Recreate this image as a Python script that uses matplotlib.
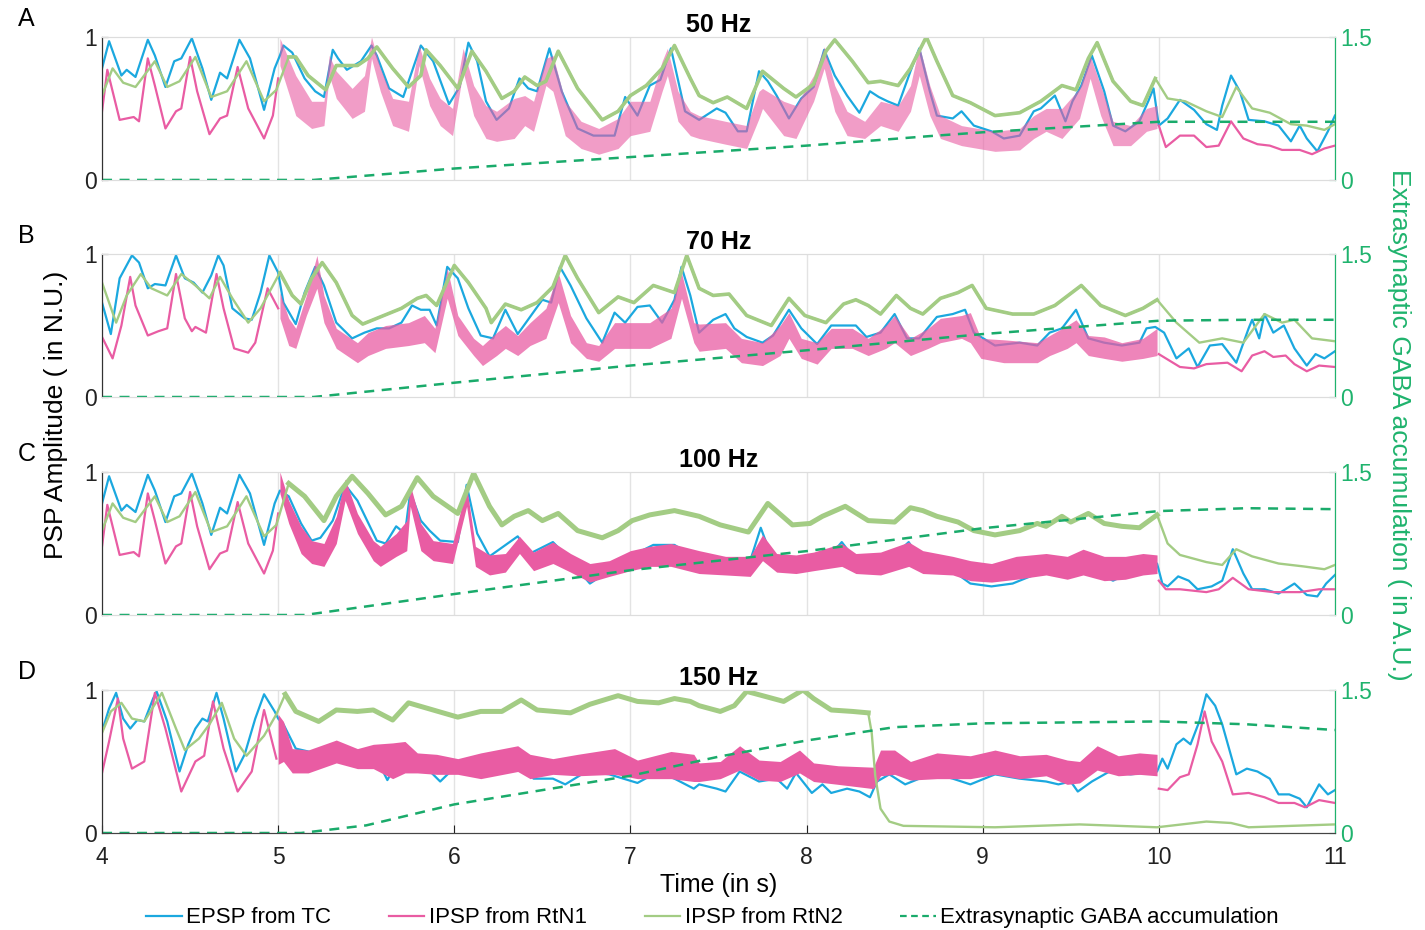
import matplotlib.pyplot as plt
from matplotlib.lines import Line2D
import numpy as np

plt.rcParams['font.family'] = ['Liberation Sans', 'DejaVu Sans']

# ---- panel A : 50 Hz -------------------------------------------------
a_blue = [(4.00,.78),(4.04,.97),(4.11,.73),(4.14,.77),(4.19,.72),(4.26,.98),(4.30,.87),(4.36,.65),(4.41,.83),(4.45,.85),
          (4.51,.99),(4.57,.78),(4.62,.56),(4.67,.75),(4.71,.71),(4.78,.98),(4.84,.85),(4.92,.49),(4.98,.78),(5.01,.87),
          (5.03,.94),(5.08,.89),(5.15,.71),(5.21,.62),(5.26,.58),(5.31,.91),(5.34,.85),(5.39,.77),(5.47,.83),(5.53,.94),
          (5.56,.87),(5.63,.64),(5.71,.58),(5.76,.76),(5.81,.94),(5.88,.83),(5.97,.53),(6.03,.65),(6.08,.96),(6.13,.83),
          (6.18,.55),(6.24,.42),(6.31,.50),(6.37,.71),(6.42,.64),(6.47,.62),(6.54,.92),(6.61,.62),(6.70,.36),(6.79,.31),
          (6.91,.31),(6.97,.58),(7.04,.45),(7.11,.66),(7.17,.70),(7.23,.92),(7.31,.48),(7.39,.42),(7.49,.50),(7.54,.47),
          (7.61,.34),(7.66,.34),(7.73,.76),(7.78,.69),(7.83,.59),(7.90,.43),(7.97,.57),(8.04,.65),(8.10,.91),(8.16,.73),
          (8.23,.59),(8.30,.47),(8.36,.62),(8.41,.58),(8.46,.55),(8.52,.52),(8.59,.76),(8.64,.92),(8.70,.62),(8.74,.45),
          (8.83,.43),(8.88,.48),(8.95,.38),(9.05,.34),(9.12,.29),(9.21,.31),(9.29,.48),(9.33,.50),(9.41,.59),(9.47,.41),
          (9.51,.55),(9.56,.66),(9.62,.87),(9.69,.62),(9.74,.38),(9.81,.34),(9.89,.41),(9.94,.55),(9.97,.64),(10.00,.38),
          (10.05,.43),(10.12,.56),(10.20,.49),(10.27,.39),(10.33,.35),(10.36,.52),(10.41,.73),(10.46,.62),(10.51,.42),
          (10.60,.41),(10.68,.38),(10.75,.27),(10.80,.38),(10.84,.29),(10.90,.20),(10.96,.34),(11.00,.45)]
a_pink_pre = [(4.00,.48),(4.03,.77),(4.06,.62),(4.10,.42),(4.14,.43),(4.18,.44),(4.21,.41),(4.26,.85),(4.30,.66),(4.36,.36),
              (4.42,.48),(4.45,.50),(4.50,.86),(4.54,.62),(4.61,.32),(4.67,.43),(4.71,.45),(4.77,.79),(4.83,.50),(4.92,.29),
              (4.97,.45),(5.00,.71)]
a_pink_band = [(5.01,.99,.80),(5.10,.73,.45),(5.19,.55,.36),(5.26,.55,.38),(5.29,.87,.73),(5.33,.76,.57),(5.42,.64,.43),
               (5.49,.73,.48),(5.53,1.0,.85),(5.58,.78,.62),(5.65,.57,.38),(5.74,.55,.34),(5.80,.94,.80),(5.86,.71,.52),
               (5.92,.57,.38),(5.99,.50,.31),(6.05,.92,.76),(6.11,.66,.45),(6.18,.52,.29),(6.24,.48,.27),(6.34,.57,.29),
               (6.40,.59,.38),(6.45,.55,.34),(6.52,.85,.66),(6.56,.87,.62),(6.63,.55,.31),(6.72,.41,.22),(6.82,.36,.18),
               (6.93,.43,.22),(7.00,.55,.31),(7.11,.55,.34),(7.18,.83,.62),(7.21,.92,.73),(7.27,.62,.41),(7.34,.48,.31),
               (7.39,.45,.29),(7.54,.41,.25),(7.66,.38,.22),(7.73,.62,.43),(7.75,.64,.50),(7.87,.55,.31),(7.94,.52,.29),
               (8.04,.73,.55),(8.10,.93,.78),(8.16,.66,.48),(8.23,.48,.31),(8.33,.41,.29),(8.42,.55,.38),(8.52,.52,.34),
               (8.59,.66,.48),(8.64,.94,.73),(8.70,.66,.45),(8.76,.45,.29),(8.88,.38,.24),(9.07,.34,.20),(9.21,.36,.21),
               (9.29,.45,.29),(9.36,.50,.34),(9.45,.50,.29),(9.55,.64,.43),(9.61,.87,.71),(9.67,.66,.45),(9.74,.41,.24),
               (9.84,.38,.24),(9.93,.50,.34),(9.99,.52,.36)]
a_pink_post = [(10.00,.38),(10.04,.23),(10.12,.31),(10.20,.31),(10.27,.23),(10.34,.24),(10.41,.41),(10.48,.29),(10.56,.25),
               (10.63,.24),(10.70,.21),(10.80,.21),(10.87,.18),(10.94,.22),(11.00,.24)]
a_green = [(4.00,.59),(4.06,.78),(4.12,.68),(4.19,.65),(4.30,.83),(4.37,.65),(4.44,.69),(4.53,.86),(4.62,.58),(4.71,.62),
           (4.82,.83),(4.92,.55),(4.99,.63),(5.06,.86),(5.10,.86),(5.17,.73),(5.27,.63),(5.33,.80),(5.45,.80),(5.51,.85),
           (5.56,.93),(5.65,.78),(5.74,.65),(5.81,.73),(5.84,.91),(5.92,.80),(6.02,.64),(6.10,.90),(6.18,.76),(6.27,.57),
           (6.34,.62),(6.40,.72),(6.47,.66),(6.52,.69),(6.59,.90),(6.70,.64),(6.84,.42),(6.93,.48),(7.00,.59),(7.09,.66),
           (7.18,.78),(7.25,.94),(7.34,.71),(7.39,.59),(7.47,.54),(7.55,.58),(7.66,.50),(7.75,.76),(7.87,.64),(7.94,.58),
           (8.04,.67),(8.11,.90),(8.16,.98),(8.26,.83),(8.35,.68),(8.42,.69),(8.52,.66),(8.59,.78),(8.68,1.0),(8.74,.83),
           (8.83,.59),(8.93,.54),(9.07,.45),(9.21,.47),(9.33,.55),(9.45,.66),(9.53,.63),(9.60,.85),(9.65,.96),(9.74,.69),
           (9.84,.55),(9.91,.52),(9.98,.71),(10.05,.57),(10.15,.55),(10.27,.48),(10.36,.44),(10.44,.65),(10.53,.50),
           (10.63,.47),(10.75,.39),(10.84,.38),(10.94,.35),(11.00,.39)]
a_gaba = [(4.0,0),(5.2,0),(6.0,.12),(7.0,.24),(8.0,.36),(8.7,.46),(9.0,.50),(10.0,.61),(11.0,.61)]

# ---- panel B : 70 Hz -------------------------------------------------
b_blue = [(4.00,.66),(4.05,.44),(4.10,.83),(4.17,.99),(4.21,.94),(4.26,.76),(4.30,.79),(4.36,.78),(4.42,.99),(4.47,.83),
          (4.52,.80),(4.57,.73),(4.62,.85),(4.66,.99),(4.69,.92),(4.74,.62),(4.81,.55),(4.85,.54),(4.90,.73),(4.95,.99),
          (5.00,.87),(5.03,.66),(5.10,.51),(5.15,.73),(5.21,.91),(5.26,.78),(5.33,.52),(5.42,.41),(5.49,.45),(5.56,.48),
          (5.63,.48),(5.70,.52),(5.76,.64),(5.81,.61),(5.86,.61),(5.90,.50),(5.96,.91),(6.02,.83),(6.08,.62),(6.15,.43),
          (6.22,.41),(6.29,.61),(6.36,.44),(6.43,.56),(6.50,.68),(6.55,.66),(6.60,.91),(6.66,.78),(6.75,.55),(6.84,.38),
          (6.91,.59),(6.97,.52),(7.04,.63),(7.11,.64),(7.18,.52),(7.25,.68),(7.29,.91),(7.34,.71),(7.39,.45),(7.47,.54),
          (7.54,.58),(7.59,.48),(7.66,.42),(7.75,.38),(7.81,.43),(7.90,.61),(7.97,.48),(8.06,.37),(8.14,.50),(8.21,.50),
          (8.28,.50),(8.34,.42),(8.42,.45),(8.50,.58),(8.57,.41),(8.64,.41),(8.74,.56),(8.83,.58),(8.90,.61),(8.95,.45),
          (9.07,.36),(9.21,.38),(9.31,.36),(9.38,.45),(9.45,.48),(9.53,.61),(9.60,.41),(9.69,.38),(9.79,.36),(9.89,.38),
          (9.93,.48),(9.98,.49),(10.03,.45),(10.10,.27),(10.17,.34),(10.22,.21),(10.29,.36),(10.36,.37),(10.44,.24),
          (10.51,.48),(10.53,.54),(10.57,.41),(10.60,.58),(10.65,.45),(10.71,.50),(10.77,.34),(10.84,.22),(10.89,.30),
          (10.94,.27),(11.00,.32)]
b_pink_pre = [(4.00,.42),(4.06,.27),(4.11,.50),(4.16,.84),(4.19,.64),(4.26,.43),(4.32,.46),(4.37,.48),(4.42,.86),(4.47,.55),
              (4.51,.46),(4.53,.49),(4.59,.45),(4.65,.86),(4.69,.62),(4.75,.34),(4.83,.31),(4.87,.38),(4.94,.76),(5.00,.62)]
b_pink_band = [(5.01,.73,.55),(5.06,.55,.36),(5.10,.48,.34),(5.16,.71,.57),(5.22,.99,.76),(5.26,.71,.52),(5.33,.48,.34),
               (5.45,.38,.24),(5.51,.45,.29),(5.61,.50,.34),(5.74,.52,.36),(5.83,.57,.38),(5.89,.48,.31),(5.96,.90,.69),
               (6.02,.57,.43),(6.11,.41,.29),(6.16,.36,.22),(6.24,.45,.29),(6.29,.50,.34),(6.36,.43,.29),(6.43,.52,.36),
               (6.52,.62,.41),(6.59,.87,.66),(6.66,.57,.38),(6.75,.38,.27),(6.82,.36,.25),(6.91,.52,.34),(7.00,.52,.34),
               (7.11,.52,.34),(7.23,.62,.41),(7.29,.87,.69),(7.36,.52,.38),(7.39,.51,.32),(7.54,.52,.34),(7.63,.41,.24),
               (7.75,.38,.22),(7.85,.50,.29),(7.90,.59,.41),(7.97,.41,.27),(8.06,.38,.23),(8.14,.48,.34),(8.26,.48,.34),
               (8.35,.41,.29),(8.45,.50,.34),(8.50,.57,.38),(8.59,.41,.29),(8.69,.48,.34),(8.76,.55,.38),(8.88,.57,.41),
               (8.93,.59,.38),(8.99,.41,.27),(9.12,.40,.24),(9.31,.38,.24),(9.38,.43,.29),(9.48,.50,.34),(9.53,.54,.38),
               (9.60,.43,.29),(9.69,.42,.27),(9.79,.38,.25),(9.91,.41,.27),(9.99,.48,.29)]
b_pink_post = [(10.00,.30),(10.08,.24),(10.12,.21),(10.20,.20),(10.27,.23),(10.39,.24),(10.47,.18),(10.53,.29),(10.60,.32),
               (10.65,.28),(10.72,.29),(10.77,.23),(10.84,.18),(10.91,.22),(11.00,.21)]
b_green = [(4.00,.80),(4.08,.52),(4.14,.71),(4.22,.86),(4.28,.76),(4.37,.71),(4.45,.86),(4.53,.78),(4.61,.69),(4.67,.84),
           (4.74,.69),(4.83,.52),(4.90,.62),(5.01,.87),(5.08,.71),(5.13,.65),(5.19,.83),(5.25,.94),(5.33,.80),(5.42,.57),
           (5.48,.51),(5.56,.55),(5.70,.62),(5.79,.69),(5.84,.71),(5.90,.64),(6.00,.92),(6.08,.80),(6.18,.62),(6.21,.52),
           (6.29,.65),(6.38,.61),(6.47,.66),(6.56,.77),(6.63,.99),(6.70,.83),(6.82,.59),(6.93,.70),(7.02,.66),(7.13,.78),
           (7.25,.73),(7.32,.99),(7.39,.76),(7.47,.71),(7.56,.72),(7.66,.57),(7.80,.50),(7.90,.69),(7.99,.57),(8.11,.52),
           (8.21,.65),(8.28,.68),(8.35,.64),(8.42,.58),(8.51,.71),(8.59,.62),(8.66,.58),(8.76,.69),(8.86,.73),(8.94,.78),
           (9.02,.62),(9.17,.58),(9.29,.58),(9.41,.64),(9.56,.78),(9.67,.64),(9.81,.57),(9.91,.62),(9.99,.68),(10.10,.52),
           (10.23,.38),(10.36,.41),(10.48,.38),(10.60,.58),(10.70,.52),(10.77,.54),(10.87,.41),(11.00,.39)]
b_gaba = [(4.0,0),(5.2,0),(6.0,.15),(7.0,.33),(8.0,.49),(9.0,.66),(10.0,.80),(10.5,.81),(11.0,.81)]

# ---- panel C : 100 Hz ------------------------------------------------
c_blue = [(4.00,.78),(4.04,.97),(4.11,.73),(4.14,.77),(4.19,.72),(4.26,.98),(4.30,.87),(4.36,.65),(4.41,.83),(4.45,.85),
          (4.51,.99),(4.57,.78),(4.62,.56),(4.67,.75),(4.71,.71),(4.78,.98),(4.84,.85),(4.92,.49),(4.98,.78),(5.01,.87),
          (5.06,.83),(5.13,.64),(5.19,.52),(5.24,.54),(5.31,.66),(5.38,.91),(5.45,.80),(5.56,.52),(5.61,.50),(5.67,.62),
          (5.72,.57),(5.75,.86),(5.81,.66),(5.86,.59),(5.92,.52),(6.02,.51),(6.07,.91),(6.13,.57),(6.20,.41),(6.36,.55),
          (6.43,.43),(6.56,.51),(6.63,.42),(6.77,.22),(6.88,.31),(7.00,.41),(7.13,.49),(7.25,.49),(7.39,.38),(7.54,.36),
          (7.68,.38),(7.74,.61),(7.80,.41),(7.94,.38),(8.11,.38),(8.20,.51),(8.28,.38),(8.45,.36),(8.58,.51),(8.66,.36),
          (8.83,.31),(8.93,.22),(9.05,.20),(9.17,.22),(9.31,.29),(9.45,.31),(9.57,.34),(9.74,.24),(9.91,.34),(9.99,.36),
          (10.02,.22),(10.05,.20),(10.11,.27),(10.17,.24),(10.22,.18),(10.30,.20),(10.36,.24),(10.42,.46),(10.48,.29),
          (10.53,.18),(10.60,.18),(10.68,.15),(10.77,.22),(10.84,.14),(10.90,.13),(10.95,.22),(11.00,.28)]
c_pink_pre = [(4.00,.48),(4.03,.77),(4.06,.62),(4.10,.42),(4.14,.43),(4.18,.44),(4.21,.41),(4.26,.85),(4.30,.66),(4.36,.36),
              (4.42,.48),(4.45,.50),(4.50,.86),(4.54,.62),(4.61,.32),(4.67,.43),(4.71,.45),(4.77,.79),(4.83,.50),(4.92,.29),
              (4.97,.45),(5.00,.71)]
c_pink_band = [(5.01,1.0,.85),(5.06,.80,.64),(5.13,.62,.43),(5.19,.52,.36),(5.26,.50,.34),(5.33,.69,.50),(5.38,.95,.80),
               (5.45,.71,.57),(5.54,.52,.38),(5.58,.48,.34),(5.67,.57,.41),(5.73,.66,.45),(5.75,.91,.76),(5.81,.64,.45),
               (5.88,.52,.38),(5.99,.50,.36),(6.07,.90,.76),(6.12,.48,.34),(6.20,.42,.28),(6.29,.43,.30),(6.37,.55,.43),
               (6.45,.44,.31),(6.56,.51,.36),(6.66,.43,.30),(6.77,.36,.23),(6.88,.38,.27),(7.00,.45,.31),(7.11,.48,.34),
               (7.23,.50,.34),(7.39,.45,.29),(7.54,.41,.28),(7.68,.41,.27),(7.75,.56,.38),(7.83,.43,.30),(7.94,.42,.29),
               (8.04,.44,.31),(8.20,.50,.34),(8.28,.43,.29),(8.42,.44,.28),(8.58,.51,.34),(8.66,.45,.29),(8.83,.41,.28),
               (8.93,.38,.24),(9.05,.36,.23),(9.19,.41,.25),(9.36,.43,.28),(9.48,.41,.25),(9.57,.46,.28),(9.69,.41,.24),
               (9.81,.41,.25),(9.91,.43,.28),(9.99,.42,.29)]
c_pink_post = [(10.00,.24),(10.04,.18),(10.12,.18),(10.27,.16),(10.34,.18),(10.42,.26),(10.51,.18),(10.65,.16),(10.80,.16),
               (10.91,.18),(11.00,.18)]
c_green = [(4.00,.59),(4.06,.78),(4.12,.68),(4.19,.65),(4.30,.83),(4.37,.65),(4.44,.69),(4.53,.86),(4.62,.58),(4.71,.62),
           (4.82,.83),(4.92,.55),(4.99,.63),(5.06,.92),(5.15,.83),(5.26,.66),(5.33,.83),(5.42,.97),(5.51,.85),(5.61,.70),
           (5.70,.76),(5.79,.96),(5.88,.83),(6.02,.71),(6.11,.99),(6.20,.76),(6.27,.63),(6.34,.69),(6.42,.73),(6.50,.66),
           (6.59,.71),(6.70,.59),(6.84,.54),(6.93,.59),(7.01,.66),(7.11,.70),(7.25,.73),(7.39,.69),(7.51,.63),(7.67,.58),
           (7.78,.78),(7.92,.63),(8.02,.64),(8.09,.69),(8.22,.76),(8.35,.66),(8.50,.65),(8.59,.75),(8.66,.73),(8.74,.69),
           (8.86,.65),(8.95,.59),(9.07,.56),(9.21,.59),(9.31,.64),(9.36,.62),(9.45,.69),(9.50,.65),(9.60,.71),(9.69,.64),
           (9.79,.62),(9.89,.61),(9.99,.70),(10.05,.50),(10.12,.42),(10.27,.37),(10.36,.35),(10.44,.46),(10.53,.41),
           (10.68,.36),(10.82,.34),(10.94,.32),(11.00,.35)]
c_gaba = [(4.0,0),(5.15,0),(5.5,.09),(6.0,.22),(7.0,.47),(8.0,.67),(9.0,.91),(10.0,1.09),(10.5,1.12),(11.0,1.11)]

# ---- panel D : 150 Hz ------------------------------------------------
d_blue = [(4.00,.71),(4.04,.87),(4.08,.98),(4.12,.80),(4.16,.73),(4.20,.79),(4.24,.78),(4.29,.94),(4.31,.99),(4.37,.78),
          (4.44,.43),(4.49,.62),(4.53,.73),(4.57,.80),(4.60,.78),(4.65,.98),(4.69,.80),(4.76,.43),(4.81,.55),(4.87,.80),
          (4.92,.97),(4.98,.85),(5.00,.80),(5.03,.76),(5.10,.59),(5.24,.55),(5.33,.62),(5.45,.57),(5.56,.52),(5.62,.37),
          (5.70,.55),(5.79,.52),(5.92,.36),(6.02,.48),(6.15,.48),(6.29,.50),(6.38,.50),(6.45,.38),(6.56,.38),(6.63,.34),
          (6.75,.43),(6.88,.41),(7.04,.35),(7.16,.43),(7.25,.38),(7.36,.31),(7.39,.34),(7.49,.31),(7.54,.29),(7.62,.43),
          (7.73,.36),(7.83,.38),(7.89,.31),(7.94,.42),(8.03,.28),(8.09,.34),(8.14,.28),(8.23,.31),(8.30,.29),(8.36,.25),
          (8.40,.36),(8.47,.41),(8.56,.34),(8.64,.38),(8.74,.41),(8.83,.38),(8.93,.34),(9.07,.41),(9.21,.38),(9.36,.36),
          (9.43,.34),(9.50,.36),(9.54,.29),(9.62,.36),(9.72,.43),(9.84,.41),(9.99,.43),(10.02,.52),(10.05,.45),(10.10,.62),
          (10.14,.66),(10.18,.62),(10.23,.78),(10.27,.97),(10.32,.89),(10.36,.76),(10.44,.41),(10.50,.45),(10.56,.43),
          (10.63,.38),(10.68,.27),(10.74,.27),(10.80,.24),(10.84,.18),(10.91,.34),(10.96,.27),(11.00,.30)]
d_pink_pre = [(4.00,.42),(4.04,.64),(4.09,.94),(4.12,.66),(4.17,.45),(4.24,.50),(4.30,.98),(4.36,.73),(4.45,.29),(4.53,.50),
              (4.58,.54),(4.63,.92),(4.69,.59),(4.77,.29),(4.85,.43),(4.92,.86),(4.99,.52)]
d_pink_band = [(5.00,.83,.48),(5.03,.78,.50),(5.08,.59,.42),(5.17,.58,.42),(5.33,.65,.49),(5.45,.59,.45),(5.54,.62,.45),
               (5.65,.63,.38),(5.72,.64,.42),(5.79,.56,.42),(5.90,.55,.41),(6.02,.52,.41),(6.15,.56,.38),(6.36,.61,.43),
               (6.43,.55,.38),(6.56,.52,.41),(6.70,.55,.40),(6.91,.59,.41),(7.04,.51,.38),(7.23,.57,.38),(7.36,.55,.36),
               (7.39,.49,.36),(7.51,.50,.38),(7.62,.61,.44),(7.73,.51,.37),(7.85,.50,.36),(7.96,.58,.42),(8.04,.49,.36),
               (8.18,.47,.34),(8.38,.46,.31),(8.42,.58,.40),(8.50,.58,.41),(8.59,.50,.37),(8.74,.56,.38),(8.93,.54,.38),
               (9.07,.58,.41),(9.21,.54,.38),(9.36,.55,.40),(9.48,.51,.34),(9.55,.50,.35),(9.65,.61,.44),(9.77,.54,.40),
               (9.89,.56,.41),(9.99,.55,.40)]
d_pink_post = [(10.00,.31),(10.05,.30),(10.12,.39),(10.17,.41),(10.22,.62),(10.26,.85),(10.30,.64),(10.36,.50),(10.42,.27),
               (10.51,.28),(10.60,.25),(10.68,.21),(10.77,.21),(10.83,.18),(10.91,.23),(11.00,.21)]
d_green = [(4.00,.70),(4.05,.85),(4.11,.91),(4.17,.80),(4.24,.78),(4.34,.98),(4.42,.73),(4.47,.58),(4.55,.66),(4.61,.76),
           (4.68,.91),(4.75,.66),(4.82,.54),(4.92,.68),(4.99,.83),(5.04,.97),(5.10,.85),(5.23,.78),(5.33,.86),(5.45,.85),
           (5.54,.86),(5.65,.79),(5.74,.91),(5.88,.86),(6.02,.81),(6.15,.85),(6.27,.85),(6.38,.93),(6.47,.86),(6.66,.84),
           (6.77,.90),(6.93,.96),(7.04,.92),(7.16,.91),(7.25,.94),(7.34,.92),(7.39,.89),(7.51,.85),(7.59,.89),(7.66,.99),
           (7.75,.96),(7.87,.92),(7.98,1.0),(8.04,.94),(8.14,.86),(8.26,.85),(8.35,.84),(8.37,.70),(8.39,.40),(8.42,.17),
           (8.47,.08),(8.55,.05),(9.07,.04),(9.55,.06),(9.99,.04),(10.27,.08),(10.41,.07),(10.51,.04),(11.00,.06)]
d_gaba = [(4.0,0),(5.13,0),(5.5,.08),(6.0,.30),(6.5,.45),(7.0,.60),(7.5,.80),(8.0,.97),(8.5,1.11),(9.0,1.15),
          (10.0,1.17),(10.5,1.14),(11.0,1.08)]

titles = ['50 Hz', '70 Hz', '100 Hz', '150 Hz']
letters = ['A', 'B', 'C', 'D']
# time window where RtN2 shows the fast ripple (drawn thicker)
ripple_end = [10.0, 10.0, 10.0, 8.36]

BLUE = '#1ba8df'
PINK = '#e95ca3'
LGREEN = '#a3cc84'
DGREEN = '#1aab6b'
AXGREEN = '#1fb36d'

fig = plt.figure(figsize=(14.25, 9.3), dpi=100)
bottoms = [0.8065, 0.5731, 0.3387, 0.1043]
band_alpha = [0.6, 0.75, 1.0, 1.0]
panels = [
    (a_blue, a_pink_pre, a_pink_band, a_pink_post, a_green, a_gaba),
    (b_blue, b_pink_pre, b_pink_band, b_pink_post, b_green, b_gaba),
    (c_blue, c_pink_pre, c_pink_band, c_pink_post, c_green, c_gaba),
    (d_blue, d_pink_pre, d_pink_band, d_pink_post, d_green, d_gaba),
]

for i, (blue, ppre, band, ppost, green, gaba) in enumerate(panels):
    ax = fig.add_axes([0.0716, bottoms[i], 0.8652, 0.1538])
    ax2 = ax.twinx()
    last = i == 3

    bt, bv = zip(*blue)
    ax.plot(bt, bv, color=BLUE, lw=1.6, zorder=2)

    pt, pv = zip(*ppre)
    ax.plot(pt, pv, color=PINK, lw=1.6, zorder=3)
    nt, nhi, nlo = zip(*band)
    ax.fill_between(nt, nlo, nhi, color=PINK, lw=0, alpha=band_alpha[i], zorder=3)
    qt, qv = zip(*ppost)
    ax.plot(qt, qv, color=PINK, lw=1.6, zorder=3)

    gt, gv = np.array(green).T
    ax.plot(gt, gv, color=LGREEN, lw=1.7, zorder=4)
    mid = (gt >= 5) & (gt <= ripple_end[i])
    ax.plot(gt[mid], gv[mid], color=LGREEN, lw=2.6 if i < 2 else 3.6, zorder=4)

    xt, xv = zip(*gaba)
    ax2.plot(xt, xv, color=DGREEN, lw=1.8, ls=(0, (4, 3)))

    ax.set_xlim(4, 11)
    ax.set_ylim(0, 1)
    ax2.set_ylim(0, 1.5)
    ax.set_xticks(range(4, 12))
    ax.set_yticks([0, 1])
    ax2.set_yticks([0, 1.5])
    ax2.set_yticklabels(['0', '1.5'])
    ax.grid(axis='x', color='#e3e3e3', lw=1.0)
    ax.set_axisbelow(True)

    ax.tick_params(axis='y', direction='in', length=4, labelsize=16.5, colors='#222222')
    ax2.tick_params(axis='y', direction='in', length=4, labelsize=16.5, colors=AXGREEN)
    if last:
        ax.tick_params(axis='x', direction='in', length=6, pad=9, labelsize=16.5, colors='#222222')
    else:
        ax.tick_params(axis='x', length=0, labelbottom=False)

    for a in (ax, ax2):
        a.spines['top'].set_color('#dddddd')
        a.spines['bottom'].set_color('#444444' if last else '#dddddd')
        a.spines['left'].set_color('#333333')
        a.spines['right'].set_color(AXGREEN)

    ax.set_title(titles[i], fontsize=18, fontweight='bold', pad=3)
    fig.text(0.0126, bottoms[i] + 0.1538 + 0.019, letters[i], fontsize=18, ha='left', va='center')

    if last:
        ax.set_xlabel('Time (in s)', fontsize=18, labelpad=3)

fig.text(0.039, 0.554, 'PSP Amplitude ( in N.U.)', rotation=90, fontsize=19, ha='center', va='center')
fig.text(0.982, 0.543, 'Extrasynaptic GABA accumulation ( in A.U.)', rotation=-90, fontsize=19,
         ha='center', va='center', color=AXGREEN)

handles = [Line2D([], [], color=BLUE, lw=1.6),
           Line2D([], [], color=PINK, lw=1.6),
           Line2D([], [], color=LGREEN, lw=1.6),
           Line2D([], [], color=DGREEN, lw=1.6, ls=(0, (3, 2)))]
labels = ['EPSP from TC', 'IPSP from RtN1', 'IPSP from RtN2', 'Extrasynaptic GABA accumulation']
fig.legend(handles, labels, loc='center', bbox_to_anchor=(0.5, 0.013), ncol=4, frameon=False,
           fontsize=16, handlelength=1.6, handletextpad=0.2, columnspacing=2.6)

fig.savefig('out.png', dpi=100)
